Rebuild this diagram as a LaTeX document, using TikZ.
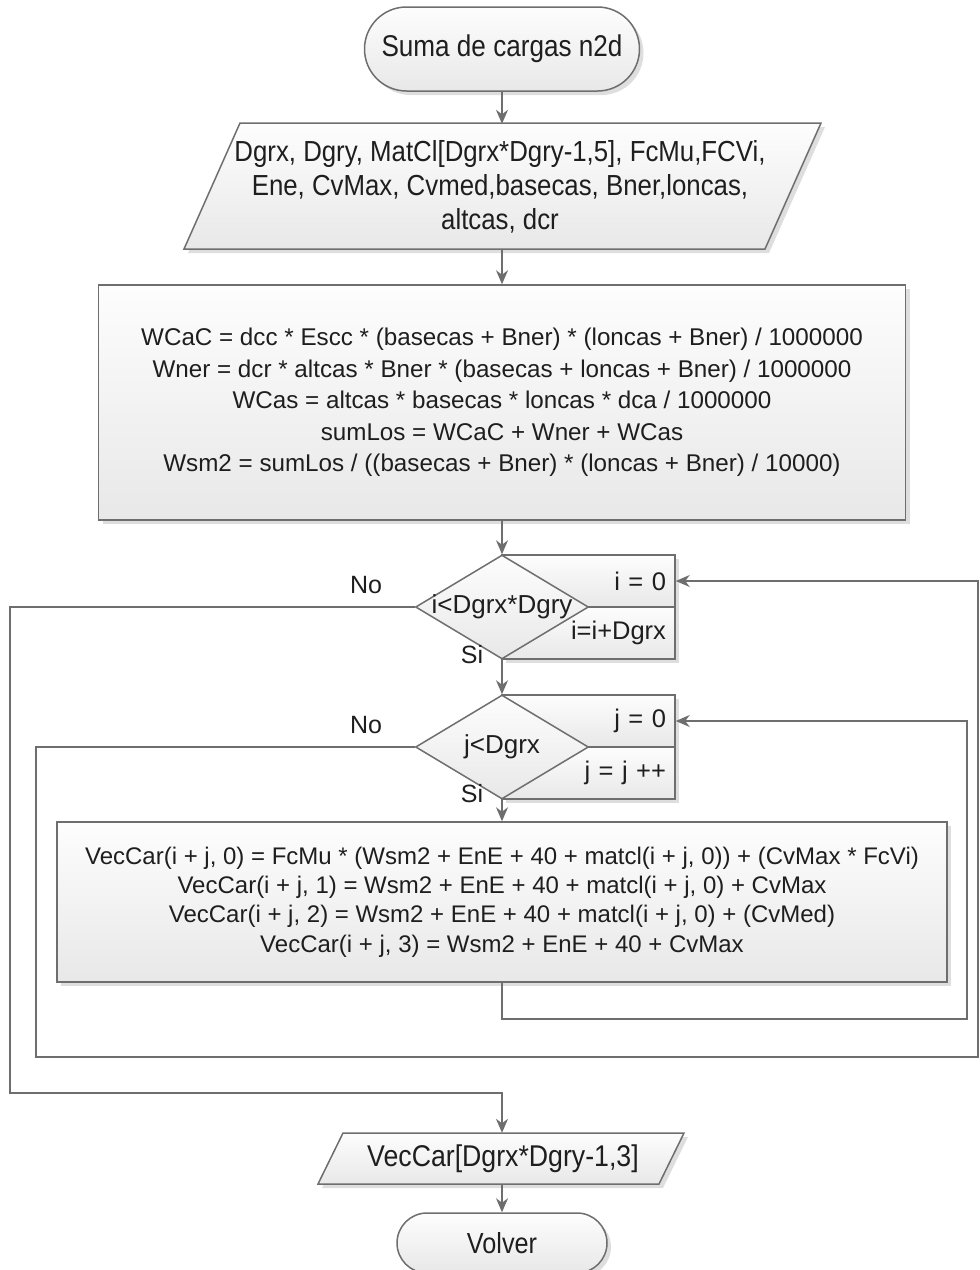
\documentclass[tikz,border=0pt]{standalone}
\usepackage{fontspec}
\setmainfont{Liberation Sans}
\newfontfamily\termfont[FakeStretch=0.87]{Liberation Sans}
\newfontfamily\iofont[FakeStretch=0.89]{Liberation Sans}
\usetikzlibrary{arrows.meta,shapes.geometric,shadows}

\definecolor{edge}{HTML}{6E6E6E}
\definecolor{ink}{HTML}{1E1E1E}
\definecolor{fillA}{HTML}{FDFDFD}
\definecolor{fillB}{HTML}{E8E8E8}

\tikzset{
  shaded box/.style={draw=edge, line width=1.5pt, text=ink,
    top color=fillA, bottom color=fillB},
  boxshadow/.style={drop shadow={shadow xshift=4pt, shadow yshift=-4pt,
    opacity=0.13, fill=black}},
  termbox/.style={shaded box, boxshadow, rectangle, rounded corners=#1,
    inner sep=0pt, font=\termfont\fontsize{30}{34}\selectfont},
  procbox/.style={shaded box, boxshadow, rectangle, inner sep=0pt, align=center},
  ioshape/.style={shaded box, boxshadow},
  iotext/.style={inner sep=0pt, text=ink, align=center},
  loopbox/.style={shaded box, boxshadow, rectangle, inner xsep=9pt, inner ysep=0pt,
    text width=155pt, align=right, minimum height=52pt,
    font=\fontsize{25.5}{28}\selectfont},
  decision/.style={shaded box, diamond, inner sep=0pt,
    minimum width=173pt, minimum height=104pt,
    font=\fontsize{26}{28}\selectfont},
  flow/.style={draw=edge, line width=1.5pt},
  arrow/.style={flow, -{Stealth[length=14pt, width=12pt, inset=4.5pt]}},
  tag/.style={text=ink, inner sep=0pt, font=\fontsize{25}{28}\selectfont}
}

\begin{document}
\begin{tikzpicture}[x=1pt, y=-1pt]
\useasboundingbox (0,0) rectangle (980,1270);

% start terminal
\node[termbox=42pt, minimum width=275pt, minimum height=84pt] (start) at (502,49) {Suma de cargas n2d};

% input data
\path[ioshape] (240,123) -- (821,123) -- (765,249) -- (184,249) -- cycle;
\node[iotext, minimum height=126pt, font=\iofont\fontsize{29}{34}\selectfont] (inp) at (500,187)
  {Dgrx, Dgry, MatCl[Dgrx*Dgry-1,5], FcMu,FCVi,\\ Ene, CvMax, Cvmed,basecas, Bner,loncas,\\ altcas, dcr};

% weights
\node[procbox, minimum width=807pt, minimum height=235pt, font=\fontsize{24.2}{31.5}\selectfont] (weights) at (502,402.5)
  {WCaC = dcc * Escc * (basecas + Bner) * (loncas + Bner) / 1000000\\
   Wner = dcr * altcas * Bner * (basecas + loncas + Bner) / 1000000\\
   WCas = altcas * basecas * loncas * dca / 1000000\\
   sumLos = WCaC + Wner + WCas\\
   Wsm2 = sumLos / ((basecas + Bner) * (loncas + Bner) / 10000)};

% outer loop over i
\node[loopbox] (iinit) at (588.5,581) {i = 0};
\node[loopbox] (iinc) at (588.5,633) {i=i+Dgrx};
\node[decision] (idec) at (502,607) {\makebox[0pt]{i<Dgrx*Dgry}};

% inner loop over j
\node[loopbox] (jinit) at (588.5,721) {j = 0};
\node[loopbox] (jinc) at (588.5,773) {j = j ++};
\node[decision] (jdec) at (502,747) {\makebox[0pt]{\raisebox{-5pt}{j<Dgrx}}};

% loop body
\node[procbox, minimum width=890pt, minimum height=160pt, font=\fontsize{24}{29.3}\selectfont] (body) at (502,902)
  {VecCar(i + j, 0) = FcMu * (Wsm2 + EnE + 40 + matcl(i + j, 0)) + (CvMax * FcVi)\\
   VecCar(i + j, 1) = Wsm2 + EnE + 40 + matcl(i + j, 0) + CvMax\\
   VecCar(i + j, 2) = Wsm2 + EnE + 40 + matcl(i + j, 0) + (CvMed)\\
   VecCar(i + j, 3) = Wsm2 + EnE + 40 + CvMax};

% output data
\path[ioshape] (343,1133) -- (684,1133) -- (659,1184) -- (318,1184) -- cycle;
\node[iotext, minimum height=51pt, font=\iofont\fontsize{30}{34}\selectfont] (outp) at (503,1158.5)
  {VecCar[Dgrx*Dgry-1,3]};

% end terminal
\node[termbox=30pt, minimum width=210pt, minimum height=60pt, font=\termfont\fontsize{29}{32}\selectfont] (stop) at (502,1243) {Volver};

% branch labels
\node[tag] (ino) at (366,585) {No};
\node[tag] (isi) at (472,655) {Si};
\node[tag] (jno) at (366,725) {No};
\node[tag] (jsi) at (472,794) {Si};

% routing points
\coordinate (jback) at (967,1019);
\coordinate (jexit) at (36,1057);
\coordinate (iback) at (978,1057);
\coordinate (iexit) at (10,1093);

% main flow
\draw[arrow] (start.south) -- (inp.north -| start.south);
\draw[arrow] (inp.south -| start.south) -- (weights.north);
\draw[arrow] (weights.south) -- (idec.north);
\draw[arrow] (idec.south) -- (jdec.north);
\draw[arrow] (jdec.south) -- (body.north);
\draw[arrow] (body.south) |- (jback) |- (jinit.east);
\draw[arrow] (jdec.west) -| (jexit) -- (iback) |- (iinit.east);
\draw[arrow] (idec.west) -| (iexit) -| (outp.north -| stop.north);
\draw[arrow] (outp.south -| stop.north) -- (stop.north);
\end{tikzpicture}
\end{document}
